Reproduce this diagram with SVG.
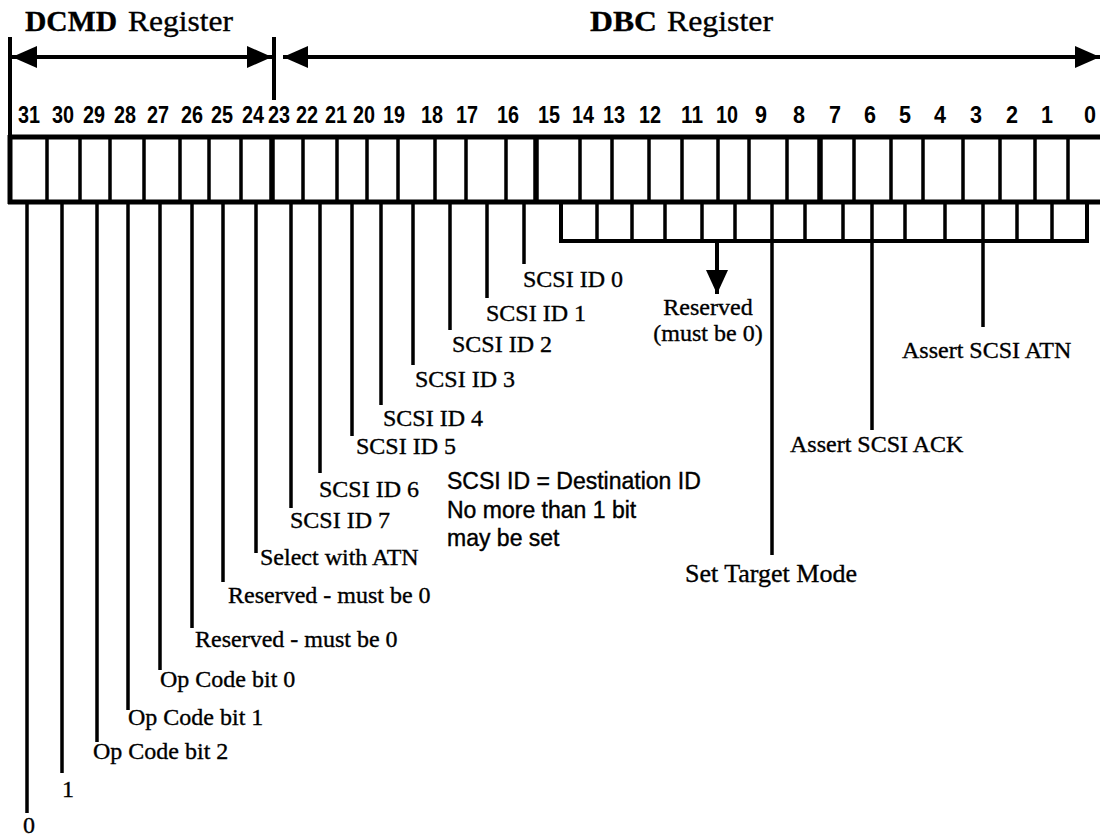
<svg xmlns="http://www.w3.org/2000/svg" width="1100" height="840" viewBox="0 0 1100 840">
<style>
.serif{font-family:"Liberation Serif","Times New Roman",serif;fill:#000;stroke:#000;stroke-width:0.35}
.lbl{font-size:24px}
.hdr{font-size:30px}
.b{font-weight:bold}
.num{font-family:"Liberation Sans",Arial,sans-serif;font-weight:bold;font-size:24px;text-anchor:middle;fill:#000}
.note{font-family:"Liberation Sans",Arial,sans-serif;font-size:23px;fill:#000;stroke:#000;stroke-width:0.4}
.ln{stroke:#000;stroke-width:4;fill:none}
.edge{stroke:#000;stroke-width:5;fill:none}
.dv{stroke:#000;stroke-width:3.5}
.byte{stroke:#000;stroke-width:5.5}
.lead{stroke:#000;stroke-width:3.5;fill:none}
</style>
<defs>
<marker id="ah" markerUnits="userSpaceOnUse" markerWidth="25" markerHeight="22" refX="25" refY="11" orient="auto-start-reverse">
<path d="M0,0 L25,11 L0,22 Z" fill="#000"/>
</marker>
<marker id="ahd" markerUnits="userSpaceOnUse" markerWidth="24" markerHeight="22" refX="24" refY="11" orient="auto">
<path d="M0,0 L24,11 L0,22 Z" fill="#000"/>
</marker>
</defs>
<rect width="1100" height="840" fill="#fff"/>

<g id="header-dcmd">
<text class="serif hdr b" x="25" y="31" textLength="92" lengthAdjust="spacingAndGlyphs">DCMD</text>
<text class="serif hdr" x="128" y="31" textLength="105" lengthAdjust="spacingAndGlyphs">Register</text>
</g>
<g id="header-dbc">
<text class="serif hdr b" x="590" y="31" textLength="67" lengthAdjust="spacingAndGlyphs">DBC</text>
<text class="serif hdr" x="667" y="31" textLength="106" lengthAdjust="spacingAndGlyphs">Register</text>
</g>

<g id="bit-numbers">
<text class="num" x="29" y="123" textLength="22" lengthAdjust="spacingAndGlyphs">31</text>
<text class="num" x="63" y="123" textLength="22" lengthAdjust="spacingAndGlyphs">30</text>
<text class="num" x="94" y="123" textLength="22" lengthAdjust="spacingAndGlyphs">29</text>
<text class="num" x="125" y="123" textLength="22" lengthAdjust="spacingAndGlyphs">28</text>
<text class="num" x="158" y="123" textLength="22" lengthAdjust="spacingAndGlyphs">27</text>
<text class="num" x="192" y="123" textLength="22" lengthAdjust="spacingAndGlyphs">26</text>
<text class="num" x="222" y="123" textLength="22" lengthAdjust="spacingAndGlyphs">25</text>
<text class="num" x="253" y="123" textLength="22" lengthAdjust="spacingAndGlyphs">24</text>
<text class="num" x="279" y="123" textLength="22" lengthAdjust="spacingAndGlyphs">23</text>
<text class="num" x="307" y="123" textLength="22" lengthAdjust="spacingAndGlyphs">22</text>
<text class="num" x="336" y="123" textLength="22" lengthAdjust="spacingAndGlyphs">21</text>
<text class="num" x="364" y="123" textLength="22" lengthAdjust="spacingAndGlyphs">20</text>
<text class="num" x="394" y="123" textLength="22" lengthAdjust="spacingAndGlyphs">19</text>
<text class="num" x="432" y="123" textLength="22" lengthAdjust="spacingAndGlyphs">18</text>
<text class="num" x="467" y="123" textLength="22" lengthAdjust="spacingAndGlyphs">17</text>
<text class="num" x="508" y="123" textLength="22" lengthAdjust="spacingAndGlyphs">16</text>
<text class="num" x="549" y="123" textLength="22" lengthAdjust="spacingAndGlyphs">15</text>
<text class="num" x="583" y="123" textLength="22" lengthAdjust="spacingAndGlyphs">14</text>
<text class="num" x="614" y="123" textLength="22" lengthAdjust="spacingAndGlyphs">13</text>
<text class="num" x="650" y="123" textLength="22" lengthAdjust="spacingAndGlyphs">12</text>
<text class="num" x="692" y="123" textLength="22" lengthAdjust="spacingAndGlyphs">11</text>
<text class="num" x="727" y="123" textLength="22" lengthAdjust="spacingAndGlyphs">10</text>
<text class="num" x="761" y="123" textLength="12" lengthAdjust="spacingAndGlyphs">9</text>
<text class="num" x="799" y="123" textLength="12" lengthAdjust="spacingAndGlyphs">8</text>
<text class="num" x="835" y="123" textLength="12" lengthAdjust="spacingAndGlyphs">7</text>
<text class="num" x="870" y="123" textLength="12" lengthAdjust="spacingAndGlyphs">6</text>
<text class="num" x="905" y="123" textLength="12" lengthAdjust="spacingAndGlyphs">5</text>
<text class="num" x="940" y="123" textLength="12" lengthAdjust="spacingAndGlyphs">4</text>
<text class="num" x="976" y="123" textLength="12" lengthAdjust="spacingAndGlyphs">3</text>
<text class="num" x="1012" y="123" textLength="12" lengthAdjust="spacingAndGlyphs">2</text>
<text class="num" x="1047" y="123" textLength="12" lengthAdjust="spacingAndGlyphs">1</text>
<text class="num" x="1090" y="123" textLength="12" lengthAdjust="spacingAndGlyphs">0</text>
</g>

<g id="register">
<line class="edge" x1="8" y1="137" x2="1100" y2="137"/>
<line class="edge" x1="8" y1="202" x2="1100" y2="202"/>
<line class="edge" x1="10" y1="135" x2="10" y2="204"/>
<path class="dv" d="M47,137V202 M80,137V202 M110,137V202 M144,137V202 M180,137V202 M209,137V202 M241,137V202 M303,137V202 M337,137V202 M367,137V202 M398,137V202 M435,137V202 M466,137V202 M506,137V202 M580,137V202 M612,137V202 M649,137V202 M682,137V202 M718,137V202 M749,137V202 M787,137V202 M854,137V202 M891,137V202 M923,137V202 M963,137V202 M1000,137V202 M1035,137V202 M1068,137V202"/>
<path class="byte" d="M272,137V202 M536,137V202 M820,137V202"/>
</g>

<g id="subrow">
<path class="ln" d="M561,202V241H1087V202"/>
<path class="dv" d="M597,202V241 M632,202V241 M665,202V241 M702,202V241 M735,202V241 M805,202V241 M843,202V241 M905,202V241 M945,202V241 M1017,202V241 M1052,202V241"/>
</g>

<g id="connectors">
<line class="ln" x1="10" y1="37" x2="10" y2="137"/>
<line class="ln" x1="274" y1="37" x2="274" y2="100"/>
<line class="ln" x1="12" y1="57" x2="272" y2="57" marker-start="url(#ah)" marker-end="url(#ah)"/>
<line class="ln" x1="283" y1="57" x2="1100" y2="57" marker-start="url(#ah)" marker-end="url(#ah)"/>
<line class="ln" x1="717" y1="241" x2="717" y2="294" marker-end="url(#ahd)"/>
<path class="lead" d="M27,202V813 M62,202V773 M97,202V742 M128,202V710 M160,202V670 M192,202V628 M223,202V582 M256,202V553 M291,202V508 M320,202V473 M352,202V436 M381,202V405 M413,202V365 M450,202V330 M487,202V298 M524,202V264"/>
<path class="lead" d="M772,202V555 M872,202V430 M983,202V327"/>
</g>

<g id="label-bit31"><text class="serif lbl" x="23" y="833">0</text></g>
<g id="label-bit30"><text class="serif lbl" x="62" y="797">1</text></g>
<g id="label-bit29"><text class="serif lbl" x="93" y="759">Op Code bit 2</text></g>
<g id="label-bit28"><text class="serif lbl" x="128" y="725">Op Code bit 1</text></g>
<g id="label-bit27"><text class="serif lbl" x="160" y="687">Op Code bit 0</text></g>
<g id="label-bit26"><text class="serif lbl" x="195" y="647">Reserved - must be 0</text></g>
<g id="label-bit25"><text class="serif lbl" x="228" y="603">Reserved - must be 0</text></g>
<g id="label-bit24"><text class="serif lbl" x="260" y="565">Select with ATN</text></g>
<g id="label-bit23"><text class="serif lbl" x="290" y="528">SCSI ID 7</text></g>
<g id="label-bit22"><text class="serif lbl" x="319" y="497">SCSI ID 6</text></g>
<g id="label-bit21"><text class="serif lbl" x="356" y="454">SCSI ID 5</text></g>
<g id="label-bit20"><text class="serif lbl" x="383" y="426">SCSI ID 4</text></g>
<g id="label-bit19"><text class="serif lbl" x="415" y="387">SCSI ID 3</text></g>
<g id="label-bit18"><text class="serif lbl" x="452" y="352">SCSI ID 2</text></g>
<g id="label-bit17"><text class="serif lbl" x="486" y="321">SCSI ID 1</text></g>
<g id="label-bit16"><text class="serif lbl" x="523" y="287">SCSI ID 0</text></g>
<g id="label-reserved">
<text class="serif lbl" x="708" y="315" text-anchor="middle">Reserved</text>
<text class="serif lbl" x="708" y="341" text-anchor="middle">(must be 0)</text>
</g>
<g id="label-target"><text class="serif" style="font-size:26px" x="685" y="582">Set Target Mode</text></g>
<g id="label-ack"><text class="serif lbl" x="790" y="452">Assert SCSI ACK</text></g>
<g id="label-atn"><text class="serif lbl" x="902" y="358">Assert SCSI ATN</text></g>
<g id="note">
<text class="note" x="447" y="489">SCSI ID = Destination ID</text>
<text class="note" x="447" y="518">No more than 1 bit</text>
<text class="note" x="447" y="546">may be set</text>
</g>
</svg>
